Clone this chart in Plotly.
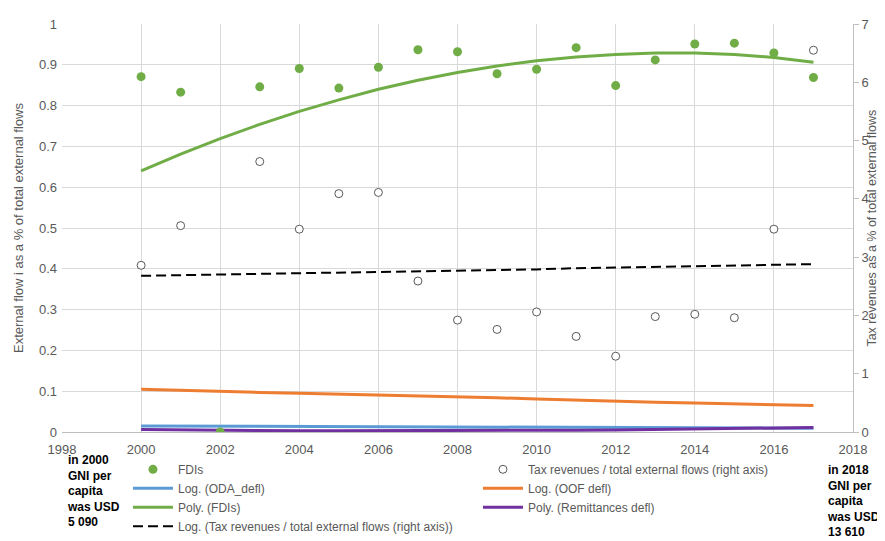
import plotly.graph_objects as go

years = list(range(2000, 2018))

fdi_years = [2000, 2001, 2002, 2003, 2004, 2005, 2006, 2007, 2008, 2009, 2010, 2011, 2012, 2013, 2014, 2015, 2016, 2017]
fdi_share = [0.871, 0.833, 0.0, 0.846, 0.891, 0.843, 0.894, 0.937, 0.932, 0.878, 0.889, 0.942, 0.849, 0.912, 0.951, 0.953, 0.929, 0.869]

tax_years = [2000, 2001, 2003, 2004, 2005, 2006, 2007, 2008, 2009, 2010, 2011, 2012, 2013, 2014, 2015, 2016, 2017]
tax_ratio = [2.86, 3.54, 4.64, 3.48, 4.09, 4.11, 2.59, 1.92, 1.76, 2.06, 1.64, 1.30, 1.98, 2.02, 1.96, 3.48, 6.55]

trend_oda = [0.0150, 0.0146, 0.0142, 0.0138, 0.0134, 0.0130, 0.0127, 0.0124, 0.0121, 0.0118, 0.0115, 0.0112, 0.0109, 0.0106, 0.0103, 0.0100, 0.0097, 0.0094]
trend_oof = [0.105, 0.102, 0.099, 0.097, 0.095, 0.093, 0.091, 0.089, 0.087, 0.084, 0.081, 0.078, 0.076, 0.073, 0.071, 0.069, 0.067, 0.065]
trend_fdi = [0.640, 0.681, 0.719, 0.754, 0.786, 0.814, 0.840, 0.862, 0.881, 0.897, 0.910, 0.919, 0.925, 0.929, 0.929, 0.925, 0.918, 0.906]
trend_rem = [0.0060, 0.0050, 0.0040, 0.0035, 0.0030, 0.0030, 0.0030, 0.0030, 0.0030, 0.0033, 0.0037, 0.0045, 0.0050, 0.0060, 0.0070, 0.0080, 0.0095, 0.0110]
trend_tax = [2.68, 2.69, 2.70, 2.71, 2.72, 2.73, 2.75, 2.76, 2.77, 2.78, 2.79, 2.81, 2.82, 2.83, 2.84, 2.85, 2.86, 2.88]

FONT = "Liberation Sans"
GREY = "#595959"

fig = go.Figure()

fig.add_trace(go.Scatter(x=years, y=trend_oof, mode="lines", name="Log. (OOF defl)",
                         line=dict(color="#ED7D31", width=3), legendrank=4))
fig.add_trace(go.Scatter(x=years, y=trend_oda, mode="lines", name="Log. (ODA_defl)",
                         line=dict(color="#5B9BD5", width=3), legendrank=3))
fig.add_trace(go.Scatter(x=years, y=trend_rem, mode="lines", name="Poly. (Remittances defl)",
                         line=dict(color="#7030A0", width=3), legendrank=6))
fig.add_trace(go.Scatter(x=years, y=trend_fdi, mode="lines", name="Poly. (FDIs)",
                         line=dict(color="#70AD47", width=3), legendrank=5))
fig.add_trace(go.Scatter(x=years, y=trend_tax, mode="lines", name="Log. (Tax revenues / total external flows (right axis))",
                         line=dict(color="black", width=2, dash="10px,5px"), yaxis="y2", legendrank=7))
fig.add_trace(go.Scatter(x=tax_years, y=tax_ratio, mode="markers", name="Tax revenues / total external flows (right axis)",
                         marker=dict(symbol="circle", size=8, color="white", line=dict(color="#595959", width=1)),
                         yaxis="y2", legendrank=2))
fig.add_trace(go.Scatter(x=fdi_years, y=fdi_share, mode="markers", name="FDIs",
                         marker=dict(symbol="circle", size=9, color="#70AD47"), legendrank=1))

fig.update_layout(
    width=885, height=541,
    margin=dict(l=54, r=40, t=16, b=117, autoexpand=False),
    plot_bgcolor="white", paper_bgcolor="white",
    font=dict(family=FONT, size=12, color=GREY),
    showlegend=True,
    legend=dict(orientation="h", x=0.0834, xanchor="left", y=-0.0559, yanchor="top",
                entrywidth=295, entrywidthmode="pixels", traceorder="normal",
                font=dict(family=FONT, size=12, color=GREY), itemwidth=40,
                bgcolor="rgba(0,0,0,0)", tracegroupgap=0),
    xaxis=dict(range=[1998, 2018], dtick=2, tick0=1998, showgrid=True, gridcolor="#d9d9d9", gridwidth=1,
               zeroline=False, showline=True, linecolor="#bfbfbf", ticks="", ticklabelstandoff=5,
               tickfont=dict(family=FONT, size=13, color=GREY)),
    yaxis=dict(range=[0, 1], dtick=0.1, showgrid=True, gridcolor="#d9d9d9", gridwidth=1,
               zeroline=False, showline=False, tickformat="~g", ticklabelstandoff=4,
               tickfont=dict(family=FONT, size=13, color=GREY)),
    yaxis2=dict(range=[0, 7], dtick=1, overlaying="y", side="right", showgrid=False, zeroline=False,
                showline=True, linecolor="#bfbfbf", ticks="outside", ticklen=5, tickcolor="#bfbfbf",
                tickfont=dict(family=FONT, size=13, color=GREY)),
)

fig.add_annotation(text="External flow i as a % of total external flows", textangle=-90,
                   xref="paper", yref="paper", x=-0.0556, y=0.5, xanchor="center", yanchor="middle",
                   showarrow=False, font=dict(family=FONT, size=13, color=GREY))
fig.add_annotation(text="Tax revenues as a % of total external flows", textangle=-90,
                   xref="paper", yref="paper", x=1.0235, y=0.5, xanchor="center", yanchor="middle",
                   showarrow=False, font=dict(family=FONT, size=12.5, color=GREY))
fig.add_annotation(text="<b>in 2000<br>GNI per<br>capita<br>was USD<br>5 090</b>", align="left",
                   xref="paper", yref="paper", x=0.0038, y=-0.047, xanchor="left", yanchor="top",
                   showarrow=False, font=dict(family=FONT, size=12, color="black"))
fig.add_annotation(text="<b>in 2018<br>GNI per<br>capita<br>was USD<br>13 610</b>", align="left",
                   xref="paper", yref="paper", x=0.964, y=-0.0706, xanchor="left", yanchor="top",
                   showarrow=False, font=dict(family=FONT, size=12, color="black"))

fig.write_html("out.html")
